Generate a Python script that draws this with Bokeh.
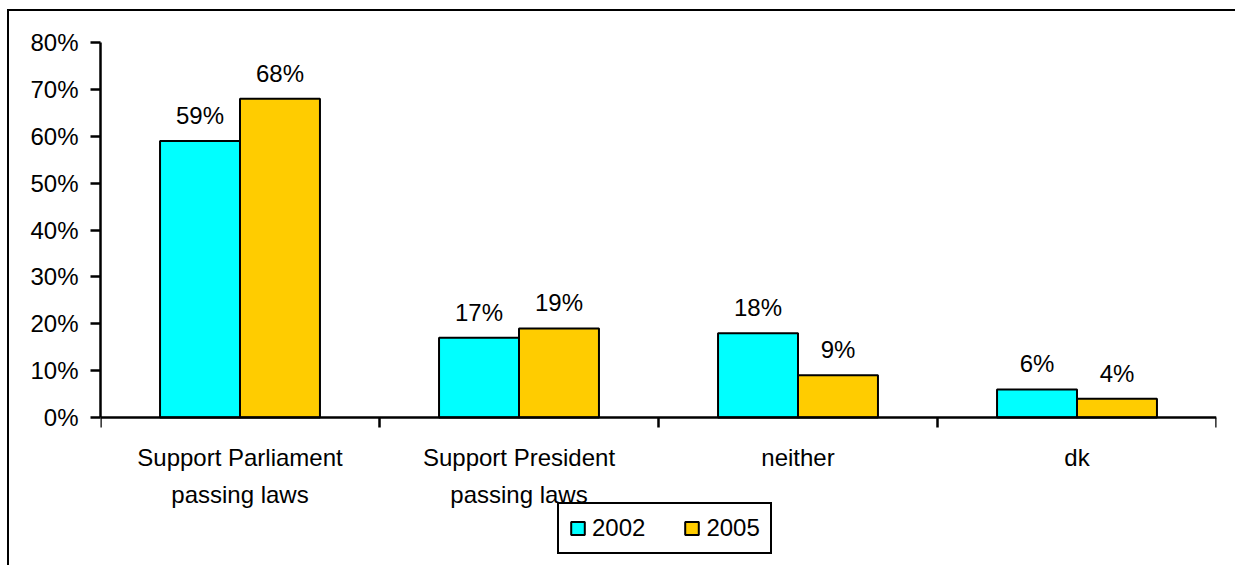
from bokeh.plotting import figure
from bokeh.models import (ColumnDataSource, FixedTicker, PrintfTickFormatter,
                          Legend, LegendItem, Range1d, InlineStyleSheet)
from bokeh.transform import dodge
from bokeh.core.properties import value
from bokeh.embed import file_html
from bokeh.resources import INLINE

# survey answers, share of respondents in percent
categories = ["Support Parliament\npassing laws", "Support President\npassing laws", "neither", "dk"]
years = ["2002", "2005"]
share_2002 = [59, 17, 18, 6]
share_2005 = [68, 19, 9, 4]
y_ticks = [0, 10, 20, 30, 40, 50, 60, 70, 80]

FONT = "Liberation Sans"
FS = "24px"
C2002 = "#00FFFF"
C2005 = "#FFCC00"

# plot geometry (pixels): value axis runs from 0 at y=417 up to 80 at y=42,
# the drawing frame continues below it to leave room for names and legend
TOP, ZERO, BOTTOM = 42, 417, 560
Y_MAX = 80
y_min = -Y_MAX * (BOTTOM - ZERO) / (ZERO - TOP)

n = len(categories)
centres = [i + 0.5 for i in range(n)]
src = ColumnDataSource(dict(
    x=centres,
    base=[0] * n,
    names=categories,
    v2002=share_2002,
    v2005=share_2005,
    t2002=[f"{v}%" for v in share_2002],
    t2005=[f"{v}%" for v in share_2005],
))

p = figure(frame_width=1116, frame_height=BOTTOM - TOP, output_backend="svg",
           toolbar_location=None,
           x_range=Range1d(0, n), y_range=Range1d(y_min, Y_MAX),
           min_border_left=100, min_border_right=19,
           min_border_top=TOP, min_border_bottom=5)
p.outline_line_color = None
p.xgrid.visible = False
p.ygrid.visible = False
p.background_fill_color = "white"
p.border_fill_color = "white"

BW = 0.2866
OFF = BW / 2

r1 = p.vbar(x=dodge("x", -OFF), top="v2002", width=BW, source=src,
            fill_color=C2002, line_color="black", line_width=2)
r2 = p.vbar(x=dodge("x", OFF), top="v2005", width=BW, source=src,
            fill_color=C2005, line_color="black", line_width=2)

for col, txt, off in (("v2002", "t2002", -OFF), ("v2005", "t2005", OFF)):
    p.text(x=dodge("x", off), y=col, text=txt, source=src,
           text_align="center", text_baseline="bottom", y_offset=-12,
           text_font=value(FONT), text_font_size=FS, text_color="black")

# category names under the baseline
p.text(x="x", y="base", text="names", source=src,
       text_align="center", text_baseline="top", y_offset=26,
       text_line_height=1.4,
       text_font=value(FONT), text_font_size=FS, text_color="black")

# y axis: percentage scale with outward ticks
ya = p.yaxis[0]
ya.ticker = FixedTicker(ticks=y_ticks)
ya.bounds = (0, Y_MAX)
ya.formatter = PrintfTickFormatter(format="%d%%")
ya.major_tick_out = 10
ya.major_tick_in = 0
ya.minor_tick_out = 0
ya.minor_tick_in = 0
ya.axis_line_width = 2.5
ya.major_tick_line_width = 2.5
ya.major_label_standoff = 12
ya.major_label_text_font = FONT
ya.major_label_text_font_size = FS
ya.major_label_text_color = "black"

# x axis on the zero line, ticks on the category boundaries
xa = p.xaxis[0]
bounds_x = list(range(n + 1))
xa.fixed_location = 0
xa.ticker = FixedTicker(ticks=bounds_x)
xa.major_label_overrides = {i: "" for i in bounds_x}
xa.major_label_standoff = 0
xa.major_tick_out = 10
xa.major_tick_in = 0
xa.minor_tick_out = 0
xa.minor_tick_in = 0
xa.major_tick_line_width = 2.5
xa.axis_line_width = 2.5

legend = Legend(items=[LegendItem(label=years[0], renderers=[r1]),
                       LegendItem(label=years[1], renderers=[r2])],
                orientation="horizontal", location=(457, 6),
                glyph_width=17, glyph_height=16, label_standoff=6,
                spacing=38, padding=10, margin=0,
                label_text_font=FONT, label_text_font_size=FS,
                label_text_color="black",
                border_line_color="black", border_line_width=2.5,
                border_line_alpha=1.0,
                background_fill_color="white", background_fill_alpha=1)
p.add_layout(legend, "center")

# chart-area border along the left and top edges
p.stylesheets = [InlineStyleSheet(css="""
:host::after {
  content: ""; position: absolute; left: 7px; top: 9px; right: 0px; bottom: 0px;
  border-left: 2.5px solid black; border-top: 2.5px solid black;
  pointer-events: none; z-index: 10;
}
""")]

open("out.html", "w").write(file_html(p, INLINE))
